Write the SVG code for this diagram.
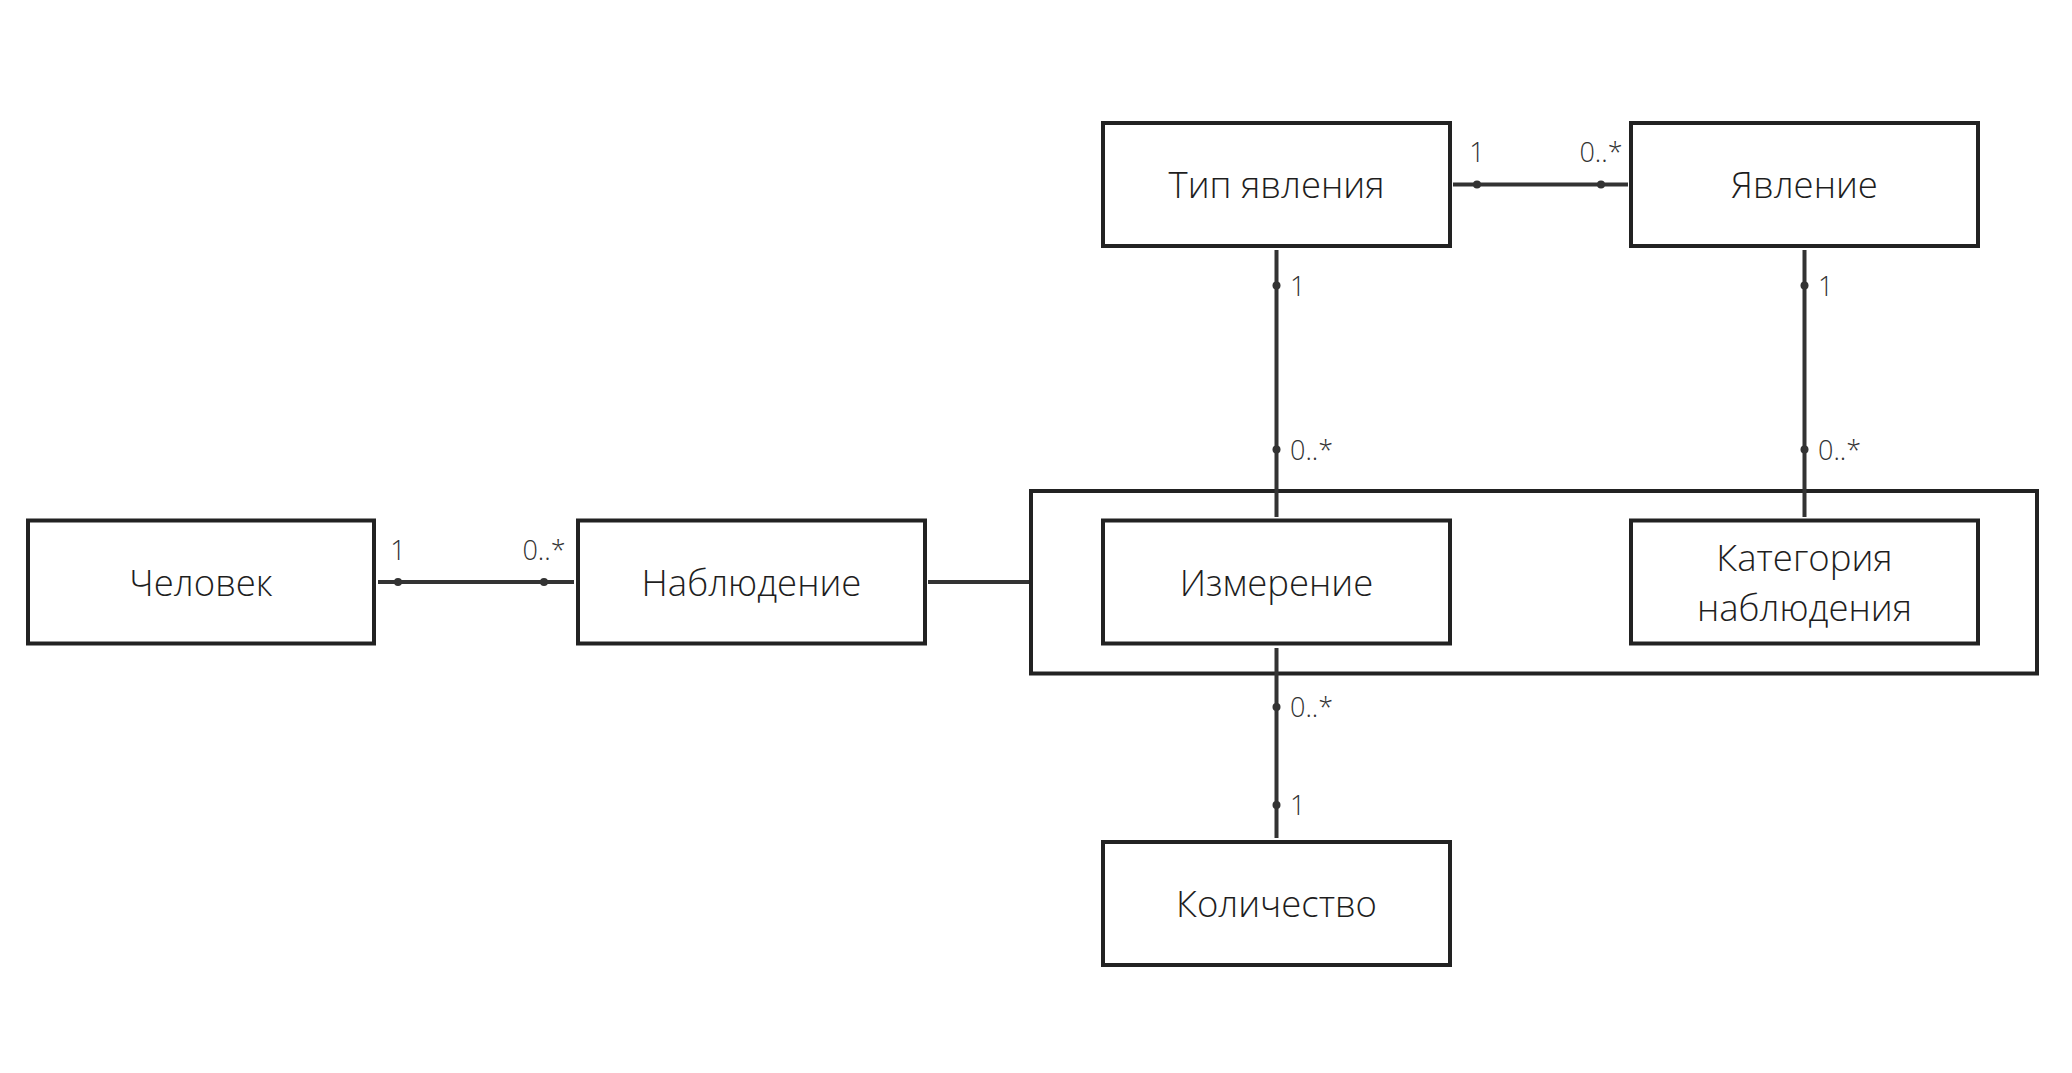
<svg xmlns="http://www.w3.org/2000/svg" width="2072" height="1073" viewBox="0 0 2072 1073">
  <style>
    .box { fill: #ffffff; stroke: #222222; stroke-width: 4; }
    .frame { fill: none; stroke: #222222; stroke-width: 4; }
    .name { font-family: "Open Sans", "Noto Sans", sans-serif; font-size: 36.5px; font-weight: 350; fill: #1e1e1e; text-anchor: middle; }
    .link { stroke: #333333; stroke-width: 4; fill: none; }
    .end { fill: #333333; }
    .mult { font-family: "Open Sans", "Noto Sans", sans-serif; font-size: 27px; font-weight: 350; fill: #333333; }
    .mid { text-anchor: middle; }
  </style>
  <rect width="2072" height="1073" fill="#ffffff"/>

  <!-- grouping frame around Измерение and Категория наблюдения -->
  <g id="observation-group">
    <rect class="frame" x="1031" y="491" width="1006" height="182.5"/>
  </g>

  <!-- associations with multiplicity marks -->
  <g id="connectors">
    <!-- Человек — Наблюдение -->
    <line class="link" x1="378" y1="582" x2="574" y2="582"/>
    <circle class="end" cx="398" cy="582" r="4"/>
    <circle class="end" cx="544" cy="582" r="4"/>
    <text class="mult mid" x="398" y="560">1</text>
    <text class="mult mid" x="544" y="560">0..*</text>

    <!-- Наблюдение — group frame -->
    <line class="link" x1="928" y1="582" x2="1029" y2="582"/>

    <!-- Тип явления — Явление -->
    <line class="link" x1="1453" y1="184.5" x2="1628" y2="184.5"/>
    <circle class="end" cx="1477" cy="184.5" r="4"/>
    <circle class="end" cx="1601" cy="184.5" r="4"/>
    <text class="mult mid" x="1477" y="162">1</text>
    <text class="mult mid" x="1601" y="162">0..*</text>

    <!-- Тип явления — Измерение -->
    <line class="link" x1="1276.5" y1="250" x2="1276.5" y2="517"/>
    <circle class="end" cx="1276.5" cy="285.5" r="4"/>
    <circle class="end" cx="1276.5" cy="449.5" r="4"/>
    <text class="mult" x="1290" y="295.5">1</text>
    <text class="mult" x="1290" y="459.5">0..*</text>

    <!-- Явление — Категория наблюдения -->
    <line class="link" x1="1804.5" y1="250" x2="1804.5" y2="517"/>
    <circle class="end" cx="1804.5" cy="285.5" r="4"/>
    <circle class="end" cx="1804.5" cy="449.5" r="4"/>
    <text class="mult" x="1818" y="295.5">1</text>
    <text class="mult" x="1818" y="459.5">0..*</text>

    <!-- Измерение — Количество -->
    <line class="link" x1="1276.5" y1="648" x2="1276.5" y2="838"/>
    <circle class="end" cx="1276.5" cy="707" r="4"/>
    <circle class="end" cx="1276.5" cy="805" r="4"/>
    <text class="mult" x="1290" y="717">0..*</text>
    <text class="mult" x="1290" y="815">1</text>
  </g>

  <g id="node-tip-yavleniya">
    <rect class="box" x="1103" y="123" width="347" height="123"/>
    <text class="name" x="1276.5" y="197.5">Тип явления</text>
  </g>

  <g id="node-yavlenie">
    <rect class="box" x="1631" y="123" width="347" height="123"/>
    <text class="name" x="1804.5" y="197.5">Явление</text>
  </g>

  <g id="node-chelovek">
    <rect class="box" x="28" y="520.5" width="346" height="123"/>
    <text class="name" x="201" y="595.5">Человек</text>
  </g>

  <g id="node-nablyudenie">
    <rect class="box" x="578" y="520.5" width="347" height="123"/>
    <text class="name" x="751.5" y="595.5">Наблюдение</text>
  </g>

  <g id="node-izmerenie">
    <rect class="box" x="1103" y="520.5" width="347" height="123"/>
    <text class="name" x="1276.5" y="595.5">Измерение</text>
  </g>

  <g id="node-kategoriya">
    <rect class="box" x="1631" y="520.5" width="347" height="123"/>
    <text class="name" x="1804.5" y="570.5">Категория</text>
    <text class="name" x="1804.5" y="620.5">наблюдения</text>
  </g>

  <g id="node-kolichestvo">
    <rect class="box" x="1103" y="842" width="347" height="123"/>
    <text class="name" x="1276.5" y="917">Количество</text>
  </g>
</svg>
